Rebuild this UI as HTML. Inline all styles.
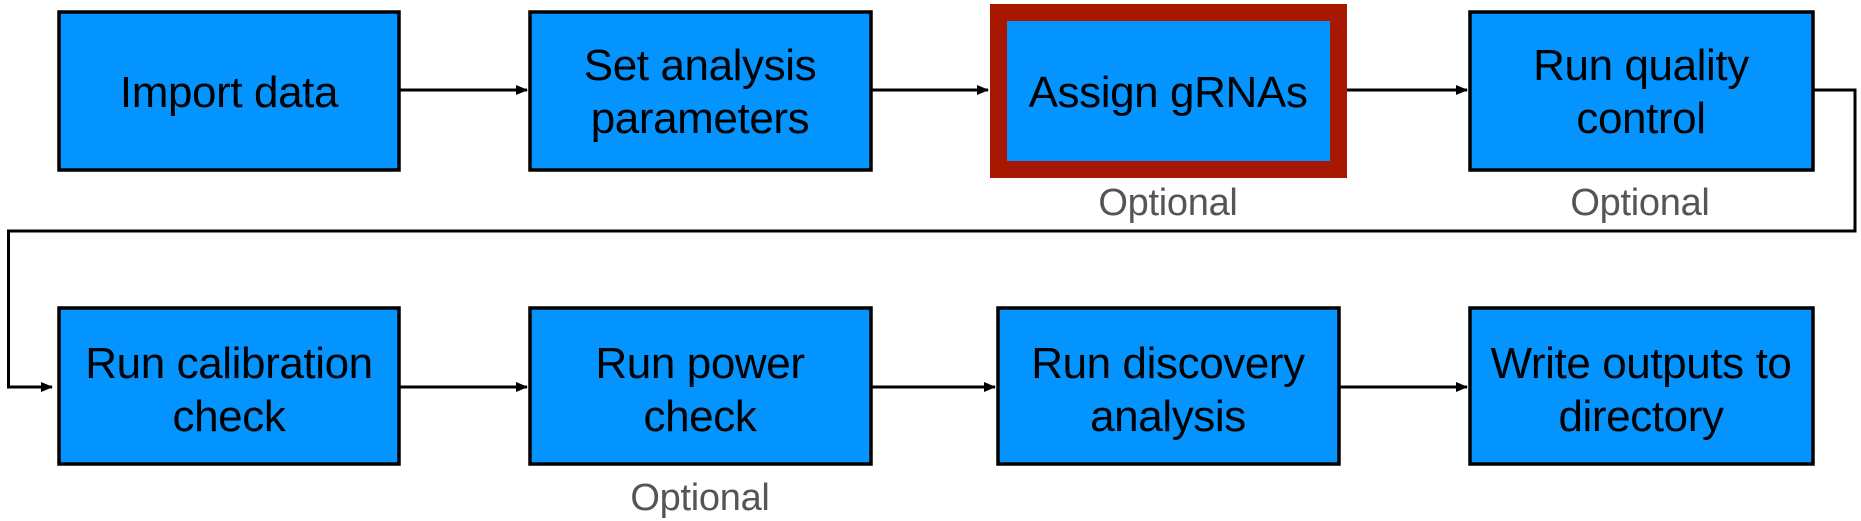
<!DOCTYPE html>
<html><head><meta charset="utf-8"><style>
html,body{margin:0;padding:0;background:#fff;}
svg{display:block}
text{font-family:"Liberation Sans",Arial,sans-serif;}
.t{font-size:44px;fill:#000;text-anchor:middle;letter-spacing:-0.4px}
.o{font-size:38px;fill:#555;text-anchor:middle;letter-spacing:-0.3px}
.b{fill:#0394FF;stroke:#000;stroke-width:3.5}
.l{stroke:#000;stroke-width:3;fill:none}
</style></head><body>
<svg width="1861" height="521" viewBox="0 0 1861 521">
<defs><marker id="a" markerWidth="12" markerHeight="10" refX="11" refY="5" orient="auto" markerUnits="userSpaceOnUse"><path d="M0,0 L12,5 L0,10 z" fill="#000"/></marker></defs>
<!-- row 1 -->
<rect class="b" x="59" y="12" width="340" height="158"/>
<rect class="b" x="530" y="12" width="341" height="158"/>
<rect x="990" y="4" width="357" height="174" fill="#A81800"/>
<rect x="1007" y="21" width="323" height="140" fill="#0394FF"/>
<rect class="b" x="1470" y="12" width="343" height="158"/>
<text class="t" x="229" y="107">Import data</text>
<text class="t" x="700" y="80">Set analysis</text>
<text class="t" x="700" y="133">parameters</text>
<text class="t" x="1168" y="107">Assign gRNAs</text>
<text class="t" x="1641" y="80">Run quality</text>
<text class="t" x="1641" y="133">control</text>
<text class="o" x="1168" y="215">Optional</text>
<text class="o" x="1640" y="215">Optional</text>
<line class="l" x1="399" y1="90" x2="527" y2="90" marker-end="url(#a)"/>
<line class="l" x1="871" y1="90" x2="988" y2="90" marker-end="url(#a)"/>
<line class="l" x1="1347" y1="90" x2="1467" y2="90" marker-end="url(#a)"/>
<polyline class="l" points="1813,90 1855,90 1855,231 8.5,231 8.5,387 52,387" marker-end="url(#a)"/>
<!-- row 2 -->
<rect class="b" x="59" y="308" width="340" height="156"/>
<rect class="b" x="530" y="308" width="341" height="156"/>
<rect class="b" x="998" y="308" width="341" height="156"/>
<rect class="b" x="1470" y="308" width="343" height="156"/>
<text class="t" x="229" y="378">Run calibration</text>
<text class="t" x="229" y="431">check</text>
<text class="t" x="700" y="378">Run power</text>
<text class="t" x="700" y="431">check</text>
<text class="t" x="1168" y="378">Run discovery</text>
<text class="t" x="1168" y="431">analysis</text>
<text class="t" x="1641" y="378">Write outputs to</text>
<text class="t" x="1641" y="431">directory</text>
<text class="o" x="700" y="510">Optional</text>
<line class="l" x1="399" y1="387" x2="527" y2="387" marker-end="url(#a)"/>
<line class="l" x1="871" y1="387" x2="995" y2="387" marker-end="url(#a)"/>
<line class="l" x1="1339" y1="387" x2="1467" y2="387" marker-end="url(#a)"/>
</svg>
</body></html>
